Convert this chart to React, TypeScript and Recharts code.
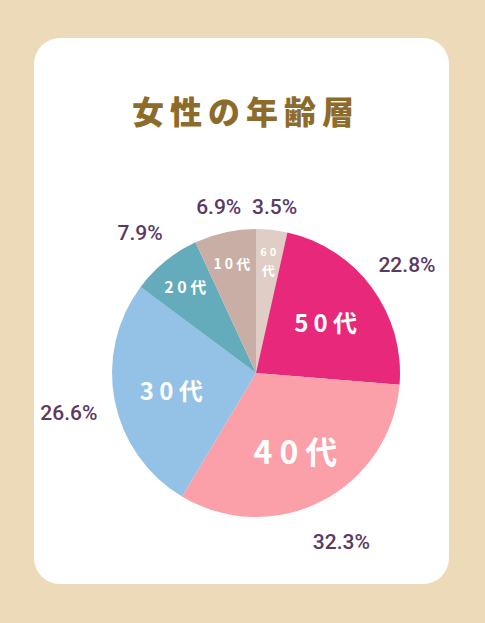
import { PieChart, Pie, Cell } from "recharts";

// 女性の年齢層 — clockwise from 12 o'clock
const ageGroups = ["60代", "50代", "40代", "30代", "20代", "10代"];
const shares = [3.5, 22.8, 32.3, 26.6, 7.9, 6.9];

const COLORS: Record<string, string> = {
  "60代": "#e0cdc6",
  "50代": "#e8287a",
  "40代": "#fba0a8",
  "30代": "#94c1e6",
  "20代": "#64acbb",
  "10代": "#c8aea4",
};

const RAD = Math.PI / 180;
const PCT_COLOR = "#5b3965";

const pieData = ageGroups.map((name, i) => ({ name, value: shares[i] }));

function innerFont(pct: number) {
  if (pct > 30) return 32;
  if (pct > 20) return 24;
  if (pct > 7.5) return 16;
  if (pct > 5) return 14;
  return 12;
}

// group name inside the slice + percentage outside
function renderLabel(props: any) {
  const { cx, cy, midAngle, outerRadius, name, value } = props;
  const cos = Math.cos(-midAngle * RAD);
  const sin = Math.sin(-midAngle * RAD);

  const rIn = value > 15 ? outerRadius * 0.6 : outerRadius * 0.78;
  const ix = cx + rIn * cos;
  const iy = cy + rIn * sin;
  const fs = innerFont(value);
  const ls = fs * 0.22;

  // push the % text clear of the rim, a bit more below the centre
  const rOut =
    outerRadius + 14 + Math.abs(cos) * 30 + Math.abs(sin) * 9 + Math.max(sin, 0) * 8;
  const ox = cx + rOut * cos;
  const oy = cy + rOut * sin + 3;

  // tiny slice: number above, 代 below
  const stacked = value < 5;

  return (
    <g>
      {stacked ? (
        <g
          fill="#fff"
          fontWeight={700}
          fontFamily="'Noto Sans CJK JP', sans-serif"
          textAnchor="middle"
        >
          <text x={ix + 1.5} y={iy - 10} fontSize={11} letterSpacing={3} dominantBaseline="central">
            {name.slice(0, 2)}
          </text>
          <text x={ix} y={iy + 8} fontSize={13} dominantBaseline="central">
            {name.slice(2)}
          </text>
        </g>
      ) : (
        <text
          x={ix + ls / 2}
          y={iy}
          fill="#fff"
          fontSize={fs}
          fontWeight={700}
          fontFamily="'Noto Sans CJK JP', sans-serif"
          textAnchor="middle"
          dominantBaseline="central"
          letterSpacing={ls}
        >
          {name}
        </text>
      )}
      <text
        x={ox}
        y={oy}
        fill={PCT_COLOR}
        fontSize={21}
        fontWeight={500}
        fontFamily="Roboto, sans-serif"
        textAnchor="middle"
        dominantBaseline="central"
      >
        {`${value.toFixed(1)}%`}
      </text>
    </g>
  );
}

export default function App() {
  return (
    <div
      style={{
        position: "fixed",
        left: 0,
        top: 0,
        width: 485,
        height: 623,
        background: "#ecdab8",
        overflow: "hidden",
      }}
    >
      <div
        style={{
          position: "absolute",
          left: 34,
          top: 38,
          width: 415,
          height: 546,
          background: "#fff",
          borderRadius: 26,
        }}
      />
      <div
        style={{
          position: "absolute",
          left: 0,
          top: 86,
          width: 492,
          textAlign: "center",
          fontFamily: "'Noto Sans CJK JP', sans-serif",
          fontWeight: 900,
          fontSize: 32,
          letterSpacing: 6,
          lineHeight: "48px",
          color: "#8d6b2b",
        }}
      >
        女性の年齢層
      </div>
      <div style={{ position: "absolute", left: 0, top: 0 }}>
        <PieChart
          width={485}
          height={623}
          margin={{ top: 0, right: 0, bottom: 0, left: 0 }}
        >
          <Pie
            data={pieData}
            dataKey="value"
            nameKey="name"
            cx={256}
            cy={373}
            outerRadius={144}
            startAngle={90}
            endAngle={-270}
            stroke="none"
            labelLine={false}
            label={renderLabel}
            isAnimationActive={false}
          >
            {pieData.map((entry) => (
              <Cell key={entry.name} fill={COLORS[entry.name]} />
            ))}
          </Pie>
        </PieChart>
      </div>
    </div>
  );
}
